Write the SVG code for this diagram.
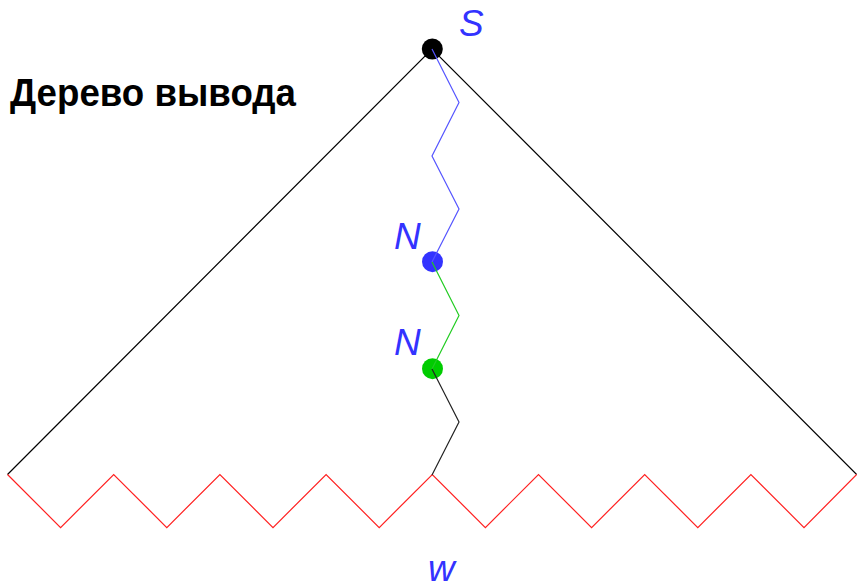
<svg xmlns="http://www.w3.org/2000/svg" width="857" height="582" viewBox="0 0 857 582">
<style>
.lbl{font-family:"Liberation Sans","DejaVu Sans",sans-serif;font-style:italic;font-size:37px;fill:#3333ff}
.title{font-family:"Liberation Sans","DejaVu Sans",sans-serif;font-weight:bold;font-size:38px;fill:#000}
.e{fill:none;stroke-width:1.2;stroke-linejoin:miter}
</style>
<rect width="857" height="582" fill="#fff"/>
<text class="title" x="10" y="106" textLength="286" lengthAdjust="spacingAndGlyphs">Дерево вывода</text>
<g id="S"><circle cx="432.3" cy="49" r="10.5" fill="#000"/><text class="lbl" x="459" y="36">S</text></g>
<g id="N1"><circle cx="432.5" cy="261.7" r="10.5" fill="#3333ff"/><text class="lbl" x="394" y="249">N</text></g>
<g id="N2"><circle cx="432.5" cy="368.7" r="10.5" fill="#00cc00"/><text class="lbl" x="394" y="355">N</text></g>
<g id="w"><text class="lbl" x="428" y="581">w</text></g>
<g id="connectors">
<polyline class="e" stroke="#000" points="7.5,474.5 432,49 856.7,474.5"/>
<polyline class="e" stroke="#ff2020" points="7.5,474.5 60.6,527.6 113.7,474.5 166.8,527.6 219.9,474.5 273,527.6 326.1,474.5 379.2,527.6 432.3,474.5 485.4,527.6 538.5,474.5 591.6,527.6 644.7,474.5 697.8,527.6 750.9,474.5 804,527.6 856.7,474.5"/>
<polyline class="e" stroke="#5555ff" points="432,49 459,102.5 432,156 459,209 432,262"/>
<polyline class="e" stroke="#22cc22" points="432,262 459,315.5 432,369"/>
<polyline class="e" stroke="#222" points="432,369 459,422 432,475"/>
</g>
</svg>
